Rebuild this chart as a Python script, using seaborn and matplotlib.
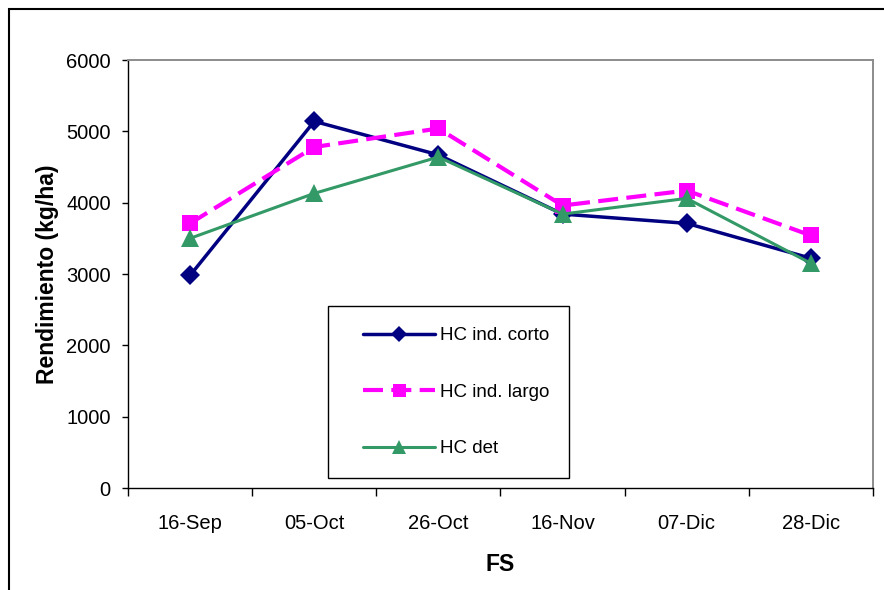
import matplotlib
matplotlib.use("Agg")
import matplotlib.pyplot as plt
from matplotlib.patches import Rectangle
from matplotlib.ticker import FixedLocator, NullFormatter
import seaborn as sns
import pandas as pd

fechas = ["16-Sep", "05-Oct", "26-Oct", "16-Nov", "07-Dic", "28-Dic"]
hc_ind_corto = [2980, 5140, 4670, 3840, 3710, 3220]
hc_ind_largo = [3710, 4780, 5040, 3960, 4170, 3540]
hc_det = [3500, 4130, 4640, 3840, 4060, 3150]
y_ticks = [0, 1000, 2000, 3000, 4000, 5000, 6000]

sns.set_theme(style="white")
plt.rcParams["font.family"] = ["Liberation Sans", "DejaVu Sans"]
plt.rcParams["text.color"] = "black"
plt.rcParams["axes.labelcolor"] = "black"

W, H = 884, 590
fig = plt.figure(figsize=(W / 100, H / 100), dpi=100)
ax_l, ax_r, ax_t, ax_b = 128, 873, 60, 488
ax = fig.add_axes([ax_l / W, 1 - ax_b / H, (ax_r - ax_l) / W, (ax_b - ax_t) / H])

series = [
    ("HC ind. corto", hc_ind_corto, "#000080", "D", 10, 2.5, "-"),
    ("HC ind. largo", hc_ind_largo, "#FF00FF", "s", 12, 3.0, (0, (4.8, 2.0))),
    ("HC det", hc_det, "#339966", "^", 13, 2.2, "-"),
]

for name, vals, color, marker, ms, lw, ls in series:
    df = pd.DataFrame({"FS": fechas, "Rendimiento": vals})
    sns.lineplot(data=df, x="FS", y="Rendimiento", ax=ax, color=color,
                 marker=marker, markersize=ms, linewidth=lw, linestyle=ls,
                 markeredgewidth=0, label=name, sort=False)

ax.set_xlim(-0.5, len(fechas) - 0.5)
ax.set_ylim(0, 6000)
ax.set_yticks(y_ticks)
ax.set_xticks(range(len(fechas)))
ax.set_xticklabels(fechas)
ax.xaxis.set_minor_locator(FixedLocator([i - 0.5 for i in range(len(fechas) + 1)]))
ax.xaxis.set_minor_formatter(NullFormatter())
ax.tick_params(axis="x", which="major", length=0, pad=19, labelsize=14.5, colors="black")
ax.tick_params(axis="x", which="minor", length=6, width=1, direction="out", color="black", bottom=True)
ax.tick_params(axis="y", length=4.5, width=1, direction="out", color="black", left=True,
               labelsize=14.5, pad=8, colors="black")

for side in ["left", "bottom"]:
    ax.spines[side].set_color("black")
    ax.spines[side].set_linewidth(1.0)
for side in ["top", "right"]:
    ax.spines[side].set_color("#8c8c8c")
    ax.spines[side].set_linewidth(1.4)
ax.set_facecolor("white")

ax.set_xlabel("FS", fontsize=16.5, fontweight="bold", labelpad=14)
ax.set_ylabel("Rendimiento (kg/ha)", fontsize=16.5, fontweight="bold", labelpad=5)

# legend box drawn as its own frame, entries placed inside it
def ax_frac(px, py):
    return (px - ax_l) / (ax_r - ax_l), (ax_b - py) / (ax_b - ax_t)

bx0, by0 = ax_frac(328, 478)
bx1, by1 = ax_frac(569, 306)
ax.add_patch(Rectangle((bx0, by0), bx1 - bx0, by1 - by0, transform=ax.transAxes,
                       facecolor="white", edgecolor="black", linewidth=1.0, zorder=4))

lx, ly = ax_frac(363, 327)
leg = ax.legend(loc="upper left", bbox_to_anchor=(lx, ly), frameon=False,
                fontsize=13.5, labelspacing=2.1, handlelength=3.85, handletextpad=0.27,
                borderpad=0, borderaxespad=0, markerscale=0.78)
leg.set_zorder(5)

fig.patches.append(Rectangle((9 / W, -0.05), 1.0, 1 - 9 / H + 0.05,
                             transform=fig.transFigure, fill=False,
                             edgecolor="black", linewidth=1.5))

fig.savefig("out.png", dpi=100)
